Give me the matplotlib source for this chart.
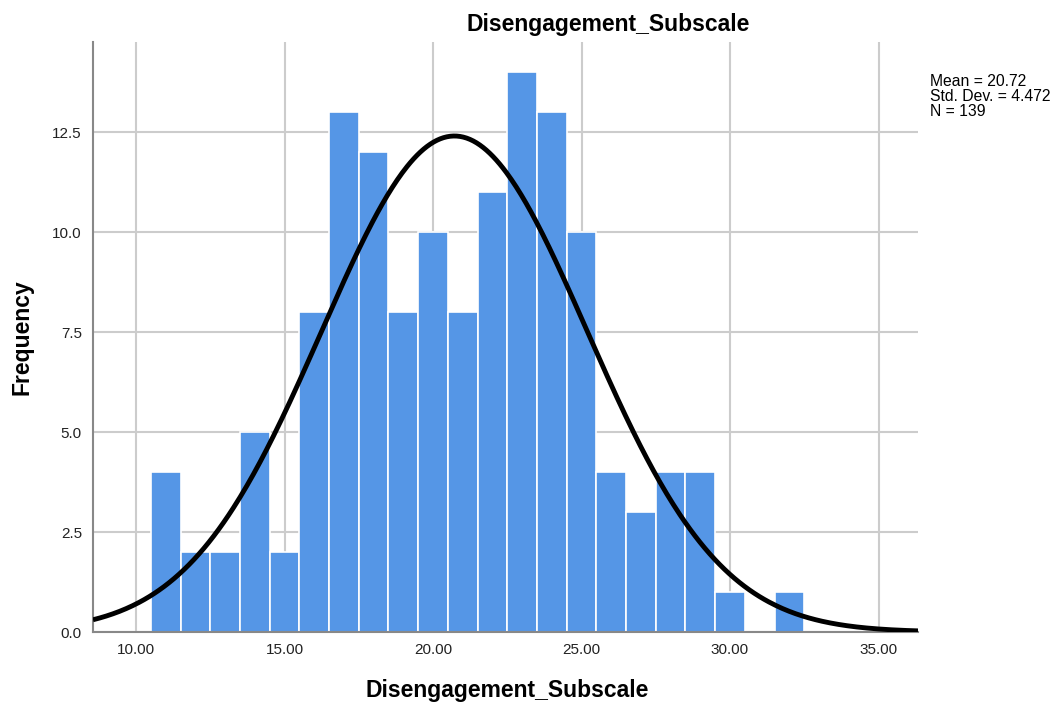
import numpy as np
import matplotlib
matplotlib.use("Agg")
import matplotlib.pyplot as plt
from matplotlib.ticker import FormatStrFormatter

plt.rcParams['font.family'] = ['Liberation Sans', 'DejaVu Sans']

# Data
bin_centers = [11, 12, 13, 14, 15, 16, 17, 18, 19, 20, 21, 22, 23, 24, 25, 26, 27, 28, 29, 30, 31, 32]
counts = [4, 2, 2, 5, 2, 8, 13, 12, 8, 10, 8, 11, 14, 13, 10, 4, 3, 4, 4, 1, 0, 1]
mean = 20.72
sd = 4.472
n = 139
bin_width = 1.0
title = "Disengagement_Subscale"
xlabel = "Disengagement_Subscale"
ylabel = "Frequency"
xticks = [10, 15, 20, 25, 30, 35]
yticks = [0.0, 2.5, 5.0, 7.5, 10.0, 12.5]

fig = plt.figure(figsize=(10.55, 7.06), dpi=100)
ax = fig.add_axes([93/1055, 1-632/706, (918-93)/1055, (632-42)/706])

ax.set_xlim(8.55, 36.33)
ax.set_ylim(0, 14.75)

ax.set_axisbelow(True)
ax.grid(True, color='#cccccc', lw=1.5)
ax.set_xticks(xticks)
ax.set_yticks(yticks)
ax.xaxis.set_major_formatter(FormatStrFormatter('%.2f'))
ax.yaxis.set_major_formatter(FormatStrFormatter('%.1f'))
ax.tick_params(length=0, labelsize=11, colors='#222222', pad=8)

ax.bar(bin_centers, counts, width=bin_width, color='#5596E6', edgecolor='white', linewidth=1.2, zorder=2)

xs = np.linspace(8.55, 36.33, 500)
ys = n * bin_width / (sd * np.sqrt(2*np.pi)) * np.exp(-0.5*((xs-mean)/sd)**2)
ax.plot(xs, ys, color='black', lw=3.5, zorder=3, solid_capstyle='butt')

for s in ['top', 'right']:
    ax.spines[s].set_visible(False)
for s in ['left', 'bottom']:
    ax.spines[s].set_color('#888888')
    ax.spines[s].set_linewidth(1.5)

fig.text(608/1055, 1-25/706, title, ha='center', va='center', fontsize=16.5, fontweight='bold')
fig.text(507/1055, 1-690/706, xlabel, ha='center', va='center', fontsize=16.5, fontweight='bold')
fig.text(22/1055, 1-337/706, ylabel, ha='center', va='center', fontsize=16.5, fontweight='bold', rotation=90)
fig.text(930/1055, 1-74/706, f"Mean = {mean:.2f}\nStd. Dev. = {sd:.3f}\nN = {n}",
         ha='left', va='top', fontsize=11.3, linespacing=1.0)

fig.savefig("out.png", dpi=100)
